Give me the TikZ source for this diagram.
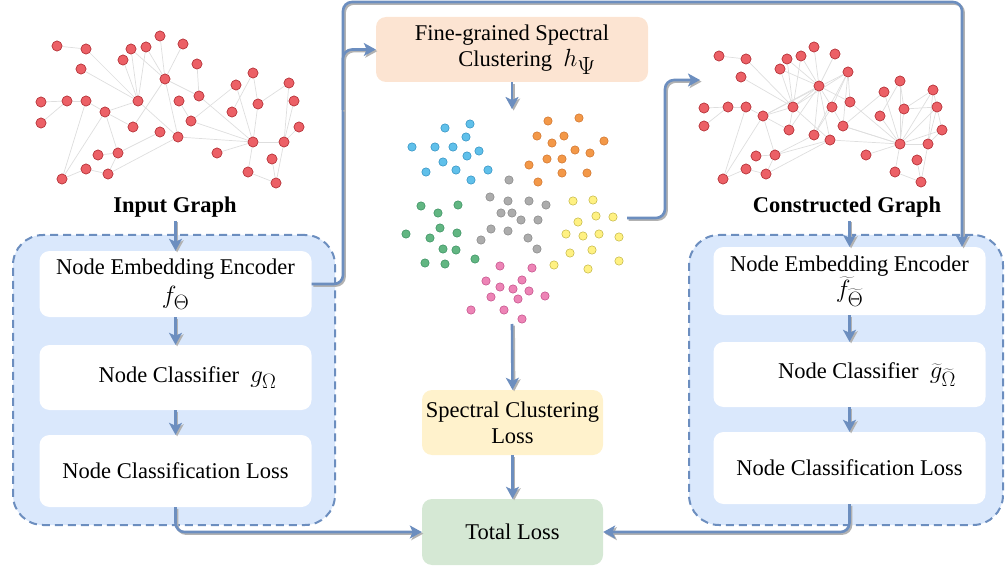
\documentclass[tikz,border=0pt]{standalone}
\usepackage{fontspec}
\setmainfont{Liberation Serif}
\usetikzlibrary{arrows.meta}

\definecolor{linkblue}{RGB}{108,142,191}
\definecolor{shadowgray}{RGB}{178,178,178}
\definecolor{panelfill}{RGB}{218,232,252}
\definecolor{peach}{RGB}{252,228,210}
\definecolor{sand}{RGB}{255,242,204}
\definecolor{mint}{RGB}{213,232,212}
\definecolor{gred}{RGB}{236,96,102}
\definecolor{gredline}{RGB}{184,58,64}
\definecolor{edgegray}{RGB}{222,222,222}
% cluster colours (fill / outline)
\definecolor{cblue}{RGB}{96,192,234}   \definecolor{cblueD}{RGB}{42,140,190}
\definecolor{corange}{RGB}{243,152,72} \definecolor{corangeD}{RGB}{205,112,40}
\definecolor{cgray}{RGB}{172,172,172}  \definecolor{cgrayD}{RGB}{132,132,132}
\definecolor{cyellow}{RGB}{255,241,130}\definecolor{cyellowD}{RGB}{192,180,64}
\definecolor{cgreen}{RGB}{98,182,130}  \definecolor{cgreenD}{RGB}{52,140,92}
\definecolor{cpink}{RGB}{237,132,182}  \definecolor{cpinkD}{RGB}{192,72,132}

% larger setting for the formula symbols
\newcommand{\bigmath}[1]{{\fontsize{28}{30}\selectfont$#1$}}

\begin{document}
\begin{tikzpicture}[x=1pt,y=-1pt,
  font=\fontsize{22.5}{30}\selectfont,
  link/.style={draw=linkblue, line width=2.6pt, rounded corners=9pt,
    -{Stealth[length=12pt,width=13pt,inset=3pt]},
    preaction={draw=shadowgray, line width=2.6pt,
      transform canvas={xshift=1.6pt,yshift=-1.6pt}}},
  panel/.style={draw=linkblue, fill=panelfill, line width=2pt,
    dash pattern=on 8pt off 5pt, rounded corners=30pt, inner sep=0pt},
  box/.style={fill=white, rounded corners=10pt, inner sep=0pt,
    align=center, minimum width=272pt},
  tint/.style={rounded corners=10pt, inner sep=0pt, align=center,
    minimum width=181pt, minimum height=65pt},
  gnode/.style={circle, fill=gred, draw=gredline, line width=0.6pt,
    minimum size=10pt, inner sep=0pt},
  gedge/.style={draw=edgegray, line width=0.7pt},
  title/.style={font=\fontsize{22.5}{27}\selectfont\bfseries},
]
\useasboundingbox (0,0) rectangle (1005,567);

% ---------- dashed panels ----------
\node[panel, minimum width=322pt, minimum height=290pt] (lpanel) at (174,380) {};
\node[panel, minimum width=314pt, minimum height=290pt] (rpanel) at (846,380) {};

% ---------- left pipeline ----------
\node[box, minimum height=66pt] (lb1) at (175.5,284)
  {Node Embedding Encoder\\[-1pt]\bigmath{f_{\Theta}}};
\node[box, minimum height=65pt] (lb2) at (175.5,377.5)
  {\hspace*{24pt}Node Classifier\ \ \bigmath{g_{\Omega}}};
\node[box, minimum height=72pt] (lb3) at (175.5,471)
  {Node Classification Loss};

% ---------- right pipeline ----------
\node[box, minimum height=68pt] (rb1) at (849.5,281)
  {Node Embedding Encoder\\[-4pt]\bigmath{\widetilde{f}_{\widetilde{\Theta}}}};
\node[box, minimum height=65pt] (rb2) at (849.5,374.5)
  {\hspace*{35pt}Node Classifier\ \ \bigmath{\widetilde{g}_{\widetilde{\Omega}}}};
\node[box, minimum height=72pt] (rb3) at (849.5,468)
  {Node Classification Loss};

% ---------- centre column ----------
\node[tint, fill=peach, minimum width=272pt] (fg) at (512,49.5)
  {Fine-grained Spectral\\[-4pt]\hspace*{30pt}Clustering\ \ {\fontsize{33}{30}\selectfont$h_{\Psi}$}};
\node[tint, fill=sand] (scl) at (512.5,422.5)
  {Spectral Clustering\\[-4pt]Loss};
\node[tint, fill=mint, minimum height=66pt] (total) at (512.5,532) {Total Loss};

% ---------- graph titles ----------
\node[title] (inlabel) at (175,207) {Input Graph};
\node[title] (conlabel) at (847,207) {Constructed Graph};

% ---------- input graph ----------
\foreach \n/\x/\y in {
  1/57/46, 2/86/49, 3/81/69, 4/131/49, 5/146/47, 6/160/36, 7/183/44,
  8/123/60, 9/197/64, 10/165/79, 11/41/102, 12/67/101, 13/86/101,
  14/105/112, 15/138/101, 16/179/101, 17/199/96, 18/41/123, 19/133/127,
  20/191/121, 21/160/132, 22/178/137, 23/98/155, 24/118/153, 25/86/169,
  26/108/174, 27/62/179, 28/236/85, 29/253/73, 30/289/83, 31/294/101,
  32/258/104, 33/232/112, 34/299/127, 35/253/142, 36/284/142,
  37/217/153, 38/272/159, 39/248/172, 40/276/183}
  \node[gnode] (g\n) at (\x,\y) {};

% ---------- constructed graph ----------
\foreach \n/\x/\y in {
  1/719/56, 2/746/59, 3/741/77, 4/787/59, 5/801/56, 6/814/47, 7/835/54,
  8/780/69, 9/848/72, 10/819/86, 11/704/108, 12/728/107, 13/746/107,
  14/763/116, 15/793/107, 16/832/107, 17/850/102, 18/704/126, 19/789/130,
  20/843/126, 21/814/135, 22/830/140, 23/756/156, 24/775/155, 25/746/169,
  26/766/174, 27/723/179, 28/884/92, 29/900/81, 30/933/90, 31/937/107,
  32/904/109, 33/880/116, 34/942/130, 35/900/144, 36/928/144,
  37/866/155, 38/917/160, 39/895/172, 40/921/182}
  \node[gnode] (c\n) at (\x,\y) {};

% edges shared by both graphs
\foreach \a/\b in {1/2, 2/15, 3/15, 4/15, 5/15, 8/15, 4/10, 5/10, 6/10,
  7/10, 10/17, 9/17, 10/19, 10/22, 15/22, 14/15, 14/19, 11/12, 18/12,
  12/13, 13/14, 13/27, 14/27, 14/24, 24/21, 23/24, 27/25, 25/26, 26/24,
  26/22, 16/20, 20/28, 17/35, 20/35, 22/35, 29/33, 29/32, 28/35, 32/35,
  32/30, 30/36, 31/36, 34/36, 35/36, 35/37, 35/39, 39/40, 38/40, 36/40} {
  \path[gedge] (g\a) -- (g\b);
  \path[gedge] (c\a) -- (c\b);
}
% extra edges of the constructed graph
\foreach \a/\b in {10/8, 10/14, 10/16, 10/21, 10/15, 9/15, 9/16, 9/21,
  9/14, 15/19, 22/24, 35/30, 35/31, 35/34, 35/33, 35/20, 32/31, 30/34,
  29/35, 20/9, 16/21}
  \path[gedge] (c\a) -- (c\b);

% redraw nodes above the edges
\foreach \n in {1,...,40} {
  \path (g\n) node[gnode] {};
  \path (c\n) node[gnode] {};
}

% ---------- clustered embedding ----------
\foreach \x/\y in {445/128,470/124,466/137,412/147,435/147,453/147,467/156,
  479/151,443/162,426/172,456/170,488/170,471/180}
  \filldraw[fill=cblue, draw=cblueD, line width=0.5pt] (\x,\y) circle (4.2);
\foreach \x/\y in {548/121,579/118,537/136,564/136,552/143,604/141,575/150,
  590/153,547/159,562/159,529/165,562/173,587/173,538/182}
  \filldraw[fill=corange, draw=corangeD, line width=0.5pt] (\x,\y) circle (4.2);
\foreach \x/\y in {509/180,490/197,508/201,529/201,546/205,501/213,512/213,
  521/220,538/220,491/229,508/231,481/240,528/238,537/249}
  \filldraw[fill=cgray, draw=cgrayD, line width=0.5pt] (\x,\y) circle (4.2);
\foreach \x/\y in {573/201,593/200,596/216,613/217,578/222,566/234,583/236,
  599/234,619/237,592/250,570/253,554/265,588/269,619/261}
  \filldraw[fill=cyellow, draw=cyellowD, line width=0.5pt] (\x,\y) circle (4.2);
\foreach \x/\y in {421/206,458/205,438/213,440/228,406/234,430/238,457/233,
  443/249,456/250,425/263,445/264,475/259}
  \filldraw[fill=cgreen, draw=cgreenD, line width=0.5pt] (\x,\y) circle (4.2);
\foreach \x/\y in {500/266,532/268,486/281,500/287,513/289,522/280,529/291,
  491/297,518/299,545/296,471/310,504/310,522/319}
  \filldraw[fill=cpink, draw=cpinkD, line width=0.5pt] (\x,\y) circle (4.2);

% ---------- connector anchors ----------
\coordinate (loopL) at (343,2);
\coordinate (loopR) at (962,2);
\coordinate (branch) at (343,110);
\coordinate (scTop) at (512,109);
\coordinate (scBot) at (512,324);
\coordinate (ysrc) at (627,218);
\coordinate (ybend) at (665,80);
\coordinate (ydst) at (700,80);

% ---------- connectors ----------
\draw[link] (inlabel.south -| lb1.north) -- (lb1.north);
\draw[link] (lb1) -- (lb2);
\draw[link] (lb2) -- (lb3);
\draw[link] (lb3.south) |- (total.west);

\draw[link] (conlabel.south -| rb1.north) -- (rb1.north);
\draw[link] (rb1) -- (rb2);
\draw[link] (rb2) -- (rb3);
\draw[link] (rb3.south) |- (total.east);

\draw[link] (lb1.east) -| (loopL) -- (loopR) -- (loopR |- rb1.north);
\draw[link] (branch) |- (fg.west);
\draw[link] (fg.south) -- (scTop);
\draw[link] (scBot) -- (scl.north);
\draw[link] (scl.south) -- (total.north);
\draw[link] (ysrc) -| (ybend) -- (ydst);
\end{tikzpicture}
\end{document}
